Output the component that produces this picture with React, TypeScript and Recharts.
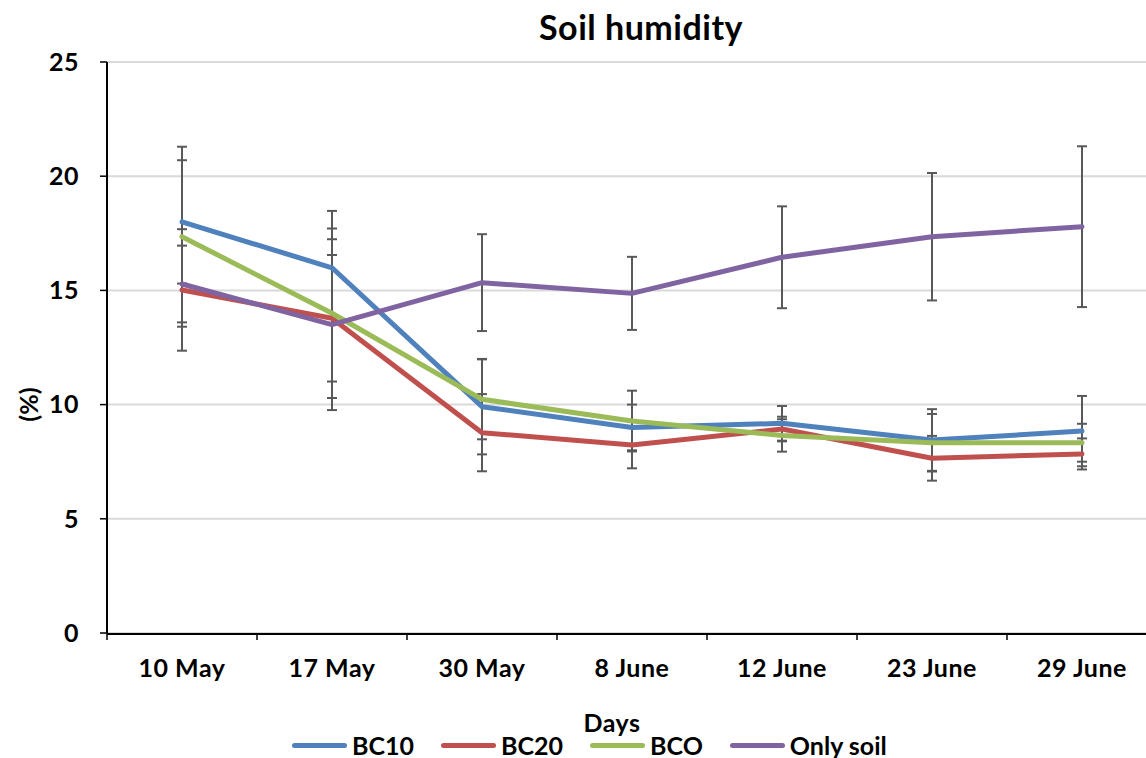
import React from "react";
import {
  CartesianGrid,
  ErrorBar,
  Legend,
  Line,
  LineChart,
  XAxis,
  YAxis,
} from "recharts";

const days = ["10 May", "17 May", "30 May", "8 June", "12 June", "23 June", "29 June"];

const bc10 = [18.0, 15.99, 9.91, 9.0, 9.18, 8.45, 8.84];
const bc10Err = [2.7, 2.49, 2.09, 1.0, 0.76, 1.35, 1.54];

const bc20 = [15.02, 13.78, 8.77, 8.23, 8.93, 7.65, 7.84];
const bc20Err = [2.66, 2.77, 1.69, 1.02, 0.54, 0.98, 0.68];

const bco = [17.35, 14.0, 10.23, 9.28, 8.65, 8.33, 8.33];
const bcoErr = [3.94, 3.71, 1.75, 1.33, 0.71, 1.26, 0.83];

const onlySoil = [15.28, 13.5, 15.34, 14.87, 16.45, 17.35, 17.79];
const onlySoilErr = [1.68, 3.74, 2.12, 1.6, 2.23, 2.79, 3.52];

const yTicks = [0, 5, 10, 15, 20, 25];
const bandEdges = [0, 1, 2, 3, 4, 5, 6, 7];

const rows = days.map((day, i) => ({
  day,
  pos: i + 0.5,
  bc10: bc10[i],
  bc10Err: bc10Err[i],
  bc20: bc20[i],
  bc20Err: bc20Err[i],
  bco: bco[i],
  bcoErr: bcoErr[i],
  onlySoil: onlySoil[i],
  onlySoilErr: onlySoilErr[i],
}));

const series = [
  { key: "bc10", name: "BC10", color: "#4f81bd" },
  { key: "bc20", name: "BC20", color: "#c0504d" },
  { key: "bco", name: "BCO", color: "#9bbb59" },
  { key: "onlySoil", name: "Only soil", color: "#8064a2" },
];

const FONT = "Lato, 'Open Sans', sans-serif";
const tickStyle = {
  fontSize: 25,
  fontWeight: 700,
  fill: "#000",
  fontFamily: FONT,
  letterSpacing: 0.5,
};

function LegendRow() {
  return (
    <div style={{ display: "flex", alignItems: "center", fontFamily: FONT }}>
      {series.map((s) => (
        <div key={s.key} style={{ display: "flex", alignItems: "center", marginRight: 27 }}>
          <span
            style={{
              display: "inline-block",
              width: 55,
              height: 5,
              borderRadius: 3,
              background: s.color,
              marginRight: 5,
            }}
          />
          <span style={{ fontSize: 25, fontWeight: 700, color: "#000" }}>{s.name}</span>
        </div>
      ))}
    </div>
  );
}

export default function App() {
  return (
    <div
      style={{
        position: "absolute",
        left: 0,
        top: 0,
        width: 1146,
        height: 758,
        overflow: "hidden",
        background: "#fff",
        fontFamily: FONT,
      }}
    >
      <div
        style={{
          position: "absolute",
          top: 7,
          left: 0,
          width: 1282,
          textAlign: "center",
          fontSize: 34,
          fontWeight: 700,
          letterSpacing: 0.5,
          lineHeight: "40px",
          color: "#000",
        }}
      >
        Soil humidity
      </div>
      <LineChart
        width={1170}
        height={770}
        data={rows}
        margin={{ top: 62, right: 13, left: 47, bottom: 96 }}
      >
        <CartesianGrid vertical={false} stroke="#d9d9d9" strokeWidth={2} />
        <XAxis
          xAxisId={0}
          dataKey="pos"
          type="number"
          domain={[0, 7]}
          ticks={bandEdges}
          allowDataOverflow
          height={1}
          axisLine={false}
          tickLine={{ stroke: "#000", strokeWidth: 1.5 }}
          tickSize={7}
          tickFormatter={() => ""}
        />
        <XAxis
          xAxisId="days"
          dataKey="day"
          scale="band"
          height={40}
          axisLine={{ stroke: "#000", strokeWidth: 2 }}
          tickLine={false}
          tickSize={0}
          tickMargin={25}
          tick={tickStyle}
          interval={0}
          label={{
            content: (p: any) => {
              const vb = p.viewBox;
              return (
                <text
                  x={vb.x + vb.width / 2 - 20}
                  y={732}
                  textAnchor="middle"
                  style={{ fontSize: 25, fontWeight: 700, fontFamily: FONT, letterSpacing: 0.5 }}
                  fill="#000"
                >
                  Days
                </text>
              );
            },
          }}
        />
        <YAxis
          width={60}
          domain={[0, 25]}
          ticks={yTicks}
          axisLine={{ stroke: "#000", strokeWidth: 2 }}
          tickLine={{ stroke: "#000", strokeWidth: 1.5 }}
          tickSize={7}
          tickMargin={21}
          tick={tickStyle}
          label={{
            content: (p: any) => {
              const vb = p.viewBox;
              const cx = vb.x - 19;
              const cy = vb.y + vb.height * 0.6;
              return (
                <text
                  x={cx}
                  y={cy}
                  transform={`rotate(-90 ${cx} ${cy})`}
                  textAnchor="middle"
                  dominantBaseline="central"
                  style={{ fontSize: 25, fontWeight: 700, fontFamily: FONT }}
                  fill="#000"
                >
                  (%)
                </text>
              );
            },
          }}
        />
        {series.map((s) => (
          <Line
            key={`${s.key}-err`}
            xAxisId="days"
            dataKey={s.key}
            stroke="none"
            dot={false}
            activeDot={false}
            legendType="none"
            isAnimationActive={false}
          >
            <ErrorBar
              dataKey={`${s.key}Err`}
              direction="y"
              width={5}
              stroke="#595959"
              strokeWidth={2}
              isAnimationActive={false}
            />
          </Line>
        ))}
        {series.map((s) => (
          <Line
            key={s.key}
            xAxisId="days"
            dataKey={s.key}
            name={s.name}
            stroke={s.color}
            strokeWidth={5}
            strokeLinecap="round"
            strokeLinejoin="round"
            dot={false}
            activeDot={false}
            type="linear"
            isAnimationActive={false}
          />
        ))}
        <Legend
          verticalAlign="middle"
          align="center"
          layout="horizontal"
          wrapperStyle={{ top: 730, left: 292, width: 800 }}
          content={() => <LegendRow />}
        />
      </LineChart>
    </div>
  );
}
